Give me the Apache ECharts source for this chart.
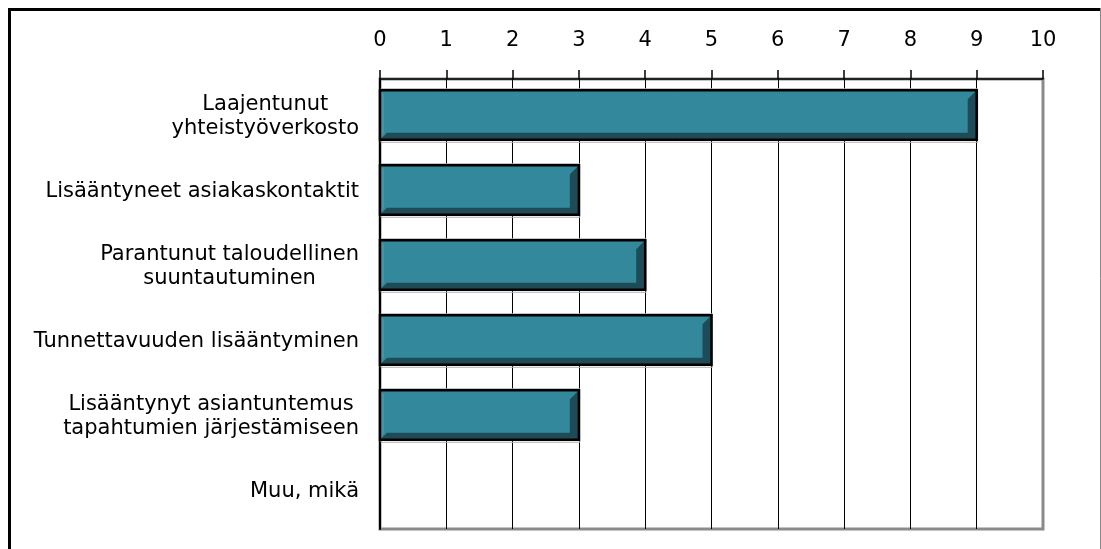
<!DOCTYPE html>
<html>
<head>
<meta charset="utf-8">
<script src="https://cdn.jsdelivr.net/npm/echarts@6/dist/echarts.min.js"></script>
<style>
html,body{margin:0;padding:0;background:#fff;}
#chart{width:1101px;height:549px;}
</style>
</head>
<body>
<div id="chart"></div>
<script>
const categories = [
  'Laajentunut\nyhteistyöverkosto',
  'Lisääntyneet asiakaskontaktit',
  'Parantunut taloudellinen\nsuuntautuminen',
  'Tunnettavuuden lisääntyminen',
  'Lisääntynyt asiantuntemus\ntapahtumien järjestämiseen',
  'Muu, mikä'
];
const values = [9, 3, 4, 5, 3, 0];
const axisMin = 0, axisMax = 10, axisStep = 1;

const chart = echarts.init(document.getElementById('chart'));

function renderItem(params, api) {
  const v = api.value(0), c = api.value(1);
  if (!v) return null;
  const p0 = api.coord([0, c]);
  const p1 = api.coord([v, c]);
  const band = api.size([0, 1])[1];
  const h = band * 0.66;
  const x0 = p0[0], x1 = p1[0];
  const y0 = p0[1] - h / 2 - 1.5, y1 = p0[1] + h / 2 - 1.5;
  const bb = 7, br = 9;
  return {
    type: 'group',
    children: [
      {type: 'rect', shape: {x: x0 + 1, y: y0 - 1.5, width: x1 - x0, height: h + 4},
        style: {fill: 'none', stroke: '#b0b0b0', lineWidth: 1}},
      {type: 'rect', shape: {x: x0, y: y0, width: x1 - x0, height: h},
        style: {fill: '#34889c'}},
      {type: 'polygon', shape: {points: [[x0, y1], [x1, y1], [x1, y0], [x1 - br, y0 + br], [x1 - br, y1 - bb], [x0 + bb, y1 - bb]]},
        style: {fill: '#1e4b56'}},
      {type: 'polygon', shape: {points: [[x0, y0], [x0 + 4, y0 + 4], [x0 + 4, y1 - bb], [x0, y1]]},
        style: {fill: '#4097aa'}},
      {type: 'rect', shape: {x: x0, y: y0, width: x1 - x0, height: h},
        style: {fill: 'none', stroke: '#000', lineWidth: 2.5}}
    ]
  };
}

chart.setOption({
  backgroundColor: '#fff',
  animation: false,
  textStyle: {fontFamily: 'DejaVu Sans'},
  grid: {left: 380, right: 58, top: 79, bottom: 20, show: true, borderColor: '#8a8a8a', borderWidth: 3, backgroundColor: '#fff'},
  xAxis: {
    type: 'value',
    position: 'top',
    min: axisMin, max: axisMax, interval: axisStep,
    axisLine: {show: true, lineStyle: {color: '#000', width: 1.5}},
    axisTick: {show: true, length: 9, lineStyle: {color: '#000', width: 1.5}},
    axisLabel: {color: '#000', fontSize: 21, fontFamily: 'DejaVu Sans', margin: 28},
    splitLine: {show: true, showMaxLine: false, lineStyle: {color: '#000', width: 1}}
  },
  yAxis: {
    type: 'category',
    inverse: true,
    data: categories,
    axisLine: {show: true, lineStyle: {color: '#000', width: 2}},
    axisTick: {show: false},
    axisLabel: {
      color: '#000', fontSize: 21, fontFamily: 'DejaVu Sans', margin: 21, align: 'right', lineHeight: 24,
      formatter: function (s) { return s.split('\n').map(l => '{c|' + l + '}').join('\n'); },
      rich: {c: {align: 'center', fontSize: 21, lineHeight: 24, fontFamily: 'DejaVu Sans', color: '#000'}}
    },
    splitLine: {show: false}
  },
  graphic: [
    {type: 'line', shape: {x1: 8, y1: 9.5, x2: 1101, y2: 9.5}, style: {stroke: '#000', lineWidth: 3}, z: 100},
    {type: 'line', shape: {x1: 9.5, y1: 8, x2: 9.5, y2: 549}, style: {stroke: '#000', lineWidth: 3}, z: 100},
    {type: 'line', shape: {x1: 1100.5, y1: 8, x2: 1100.5, y2: 549}, style: {stroke: '#888', lineWidth: 1}, z: 100}
  ],
  series: [{
    type: 'custom',
    renderItem: renderItem,
    encode: {x: 0, y: 1},
    data: values.map((v, i) => [v, i]),
    z: 10
  }]
});
</script>
</body>
</html>
